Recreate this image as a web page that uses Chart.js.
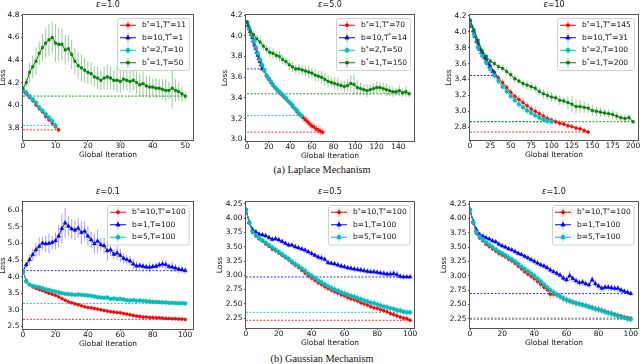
<!DOCTYPE html>
<html>
<head>
<meta charset="utf-8">
<script src="https://cdn.jsdelivr.net/npm/chart.js@4.4.1/dist/chart.umd.min.js"></script>
<style>
  html, body { margin: 0; padding: 0; background: #fff; overflow: hidden; }
  body { position: relative; width: 640px; height: 364px; font-family: "DejaVu Sans", sans-serif; }
  canvas { position: absolute; }
  .title { position: absolute; text-align: center; font-size: 8px; line-height: 10px; color: #111; }
  .caption { position: absolute; left: 0; width: 644px; text-align: center; font-family: "Liberation Serif", serif; font-size: 10.3px; line-height: 12px; color: #111; }
</style>
</head>
<body>
<div class="caption" style="top: 164px;">(a) Laplace Mechanism</div>
<div class="caption" style="top: 353px;">(b) Gaussian Mechanism</div>
<script>
// ---- iteration indices (x values) ----
const IT_0_1 = [0, 1];
const IT_0_10 = [0, 1, 2, 3, 4, 5, 6, 7, 8, 9, 10];
const IT_0_11 = [0, 1, 2, 3, 4, 5, 6, 7, 8, 9, 10, 11];
const IT_0_14 = [0, 1, 2, 3, 4, 5, 6, 7, 8, 9, 10, 11, 12, 13, 14];
const IT_0_50 = [0, 1, 2, 3, 4, 5, 6, 7, 8, 9, 10, 11, 12, 13, 14, 15, 16, 17, 18, 19, 20, 21, 22, 23, 24, 25,
  26, 27, 28, 29, 30, 31, 32, 33, 34, 35, 36, 37, 38, 39, 40, 41, 42, 43, 44, 45, 46, 47, 48, 49, 50];
const IT_0_50_BY2 = [0, 2, 4, 6, 8, 10, 12, 14, 16, 18, 20, 22, 24, 26, 28, 30, 32, 34, 36, 38, 40, 42, 44, 46, 48, 50];
const IT_0_70_BY2 = [0, 2, 4, 6, 8, 10, 12, 14, 16, 18, 20, 22, 24, 26, 28, 30, 32, 34, 36, 38, 40, 42, 44, 46, 48, 50,
  52, 54, 56, 58, 60, 62, 64, 66, 68, 70];
const IT_0_150_BY3 = [0, 3, 6, 9, 12, 15, 18, 21, 24, 27, 30, 33, 36, 39, 42, 45, 48, 51, 54, 57, 60, 63, 66, 69, 72, 75,
  78, 81, 84, 87, 90, 93, 96, 99, 102, 105, 108, 111, 114, 117, 120, 123, 126, 129, 132, 135, 138, 141, 144, 147, 150];
const IT_0_31 = [0, 2, 4, 6, 8, 10, 12, 14, 16, 18, 20, 22, 24, 26, 28, 30, 31];
const IT_0_100_BY5 = [0, 5, 10, 15, 20, 25, 30, 35, 40, 45, 50, 55, 60, 65, 70, 75, 80, 85, 90, 95, 100];
const IT_0_145_BY5 = [0, 5, 10, 15, 20, 25, 30, 35, 40, 45, 50, 55, 60, 65, 70, 75, 80, 85, 90, 95, 100,
  105, 110, 115, 120, 125, 130, 135, 140, 145];
const IT_0_200_BY5 = [0, 5, 10, 15, 20, 25, 30, 35, 40, 45, 50, 55, 60, 65, 70, 75, 80, 85, 90, 95, 100,
  105, 110, 115, 120, 125, 130, 135, 140, 145, 150, 155, 160, 165, 170, 175, 180, 185, 190, 195, 200];
const IT_0_100_BY2 = [0, 2, 4, 6, 8, 10, 12, 14, 16, 18, 20, 22, 24, 26, 28, 30, 32, 34, 36, 38, 40, 42, 44, 46, 48, 50,
  52, 54, 56, 58, 60, 62, 64, 66, 68, 70, 72, 74, 76, 78, 80, 82, 84, 86, 88, 90, 92, 94, 96, 98, 100];

// ---- (a) Laplace, eps = 1.0 ----
const L1_RED = [4.13, 4.10, 4.07, 4.04, 4.00, 3.97, 3.94, 3.90, 3.87, 3.84, 3.81, 3.78];
const L1_RED_ERR = [0.01, 0.02, 0.02, 0.02, 0.02, 0.02, 0.02, 0.03, 0.02, 0.02, 0.03, 0.03];
const L1_BLUE = [4.13, 4.11];
const L1_BLUE_ERR = [0.01, 0.02];
const L1_CYAN = [4.13, 4.11, 4.08, 4.05, 4.02, 3.98, 3.95, 3.92, 3.89, 3.86, 3.82];
const L1_CYAN_ERR = [0.01, 0.02, 0.02, 0.03, 0.03, 0.03, 0.03, 0.04, 0.03, 0.04, 0.04];
const L1_GREEN = [4.15, 4.20, 4.29, 4.34, 4.39, 4.46, 4.51, 4.55, 4.58, 4.60,
  4.55, 4.54, 4.54, 4.49, 4.50, 4.45, 4.39, 4.35, 4.33, 4.31,
  4.29, 4.28, 4.25, 4.24, 4.22, 4.24, 4.25, 4.24, 4.22, 4.22,
  4.21, 4.23, 4.22, 4.21, 4.22, 4.20, 4.18, 4.19, 4.17, 4.16,
  4.16, 4.15, 4.15, 4.14, 4.13, 4.13, 4.15, 4.13, 4.12, 4.10, 4.08];
const L1_GREEN_ERR = [0.02, 0.04, 0.09, 0.10, 0.12, 0.10, 0.12, 0.13, 0.14, 0.14,
  0.17, 0.15, 0.14, 0.13, 0.12, 0.13, 0.12, 0.12, 0.12, 0.11,
  0.10, 0.10, 0.09, 0.10, 0.09, 0.10, 0.11, 0.10, 0.09, 0.11,
  0.10, 0.10, 0.09, 0.10, 0.09, 0.10, 0.10, 0.11, 0.09, 0.10,
  0.08, 0.09, 0.08, 0.09, 0.10, 0.08, 0.18, 0.10, 0.08, 0.07, 0.04];

// ---- (a) Laplace, eps = 5.0 ----
const L5_RED = [4.13, 4.07, 4.01, 3.94, 3.88, 3.82, 3.76, 3.71, 3.66, 3.61, 3.58, 3.55, 3.52, 3.50, 3.47, 3.45, 3.43, 3.41,
  3.39, 3.37, 3.35, 3.32, 3.30, 3.27, 3.25, 3.23, 3.21, 3.19, 3.17, 3.15, 3.13, 3.12, 3.10, 3.09, 3.08, 3.07];
const L5_RED_ERR = [0.01, 0.02, 0.02, 0.02, 0.02, 0.02, 0.02, 0.02, 0.02, 0.02, 0.02, 0.02, 0.02, 0.02, 0.02, 0.02, 0.02, 0.02,
  0.02, 0.02, 0.02, 0.03, 0.02, 0.03, 0.03, 0.03, 0.04, 0.04, 0.04, 0.04, 0.04, 0.04, 0.04, 0.04, 0.04, 0.03];
const L5_BLUE = [4.13, 4.10, 4.07, 4.04, 4.01, 3.98, 3.95, 3.91, 3.88, 3.84, 3.81, 3.78, 3.75, 3.72, 3.68];
const L5_BLUE_ERR = [0.01, 0.01, 0.02, 0.02, 0.02, 0.02, 0.02, 0.02, 0.02, 0.02, 0.02, 0.02, 0.02, 0.02, 0.02];
const L5_CYAN = [4.13, 4.07, 4.01, 3.95, 3.89, 3.83, 3.77, 3.72, 3.67, 3.62, 3.59, 3.56, 3.53, 3.50, 3.48, 3.46, 3.44,
  3.42, 3.40, 3.37, 3.35, 3.33, 3.30, 3.28, 3.25, 3.23];
const L5_CYAN_ERR = [0.01, 0.02, 0.02, 0.02, 0.02, 0.02, 0.02, 0.02, 0.02, 0.02, 0.02, 0.02, 0.02, 0.02, 0.02, 0.02, 0.02,
  0.02, 0.02, 0.02, 0.02, 0.02, 0.02, 0.03, 0.03, 0.03];
const L5_GREEN = [4.13, 4.04, 4.01, 3.97, 3.94, 3.90, 3.87, 3.84, 3.83, 3.81,
  3.80, 3.77, 3.75, 3.72, 3.70, 3.68, 3.68, 3.67, 3.66, 3.65,
  3.64, 3.62, 3.61, 3.60, 3.58, 3.56, 3.55, 3.54, 3.53, 3.52,
  3.51, 3.52, 3.54, 3.53, 3.50, 3.49, 3.48, 3.47, 3.48, 3.49,
  3.50, 3.50, 3.49, 3.48, 3.47, 3.46, 3.46, 3.47, 3.45, 3.46, 3.44];
const L5_GREEN_ERR = [0.02, 0.03, 0.03, 0.04, 0.04, 0.04, 0.04, 0.05, 0.05, 0.04,
  0.05, 0.05, 0.04, 0.05, 0.05, 0.04, 0.05, 0.05, 0.05, 0.06,
  0.05, 0.06, 0.05, 0.06, 0.06, 0.06, 0.05, 0.06, 0.06, 0.05,
  0.06, 0.06, 0.08, 0.10, 0.07, 0.06, 0.05, 0.06, 0.05, 0.05,
  0.06, 0.05, 0.05, 0.06, 0.05, 0.05, 0.04, 0.05, 0.04, 0.05, 0.03];

// ---- (a) Laplace, eps = 10 ----
const L10_RED = [4.14, 3.98, 3.85, 3.74, 3.65, 3.57, 3.49, 3.42, 3.36, 3.30, 3.24, 3.19, 3.15, 3.11, 3.07,
  3.03, 3.00, 2.97, 2.94, 2.91, 2.89, 2.87, 2.85, 2.84, 2.82, 2.81, 2.79, 2.78, 2.76, 2.74];
const L10_RED_ERR = [0.01, 0.03, 0.03, 0.03, 0.03, 0.04, 0.04, 0.04, 0.05, 0.04, 0.05, 0.05, 0.05, 0.06, 0.05,
  0.05, 0.06, 0.05, 0.05, 0.05, 0.04, 0.04, 0.04, 0.03, 0.04, 0.03, 0.03, 0.03, 0.03, 0.03];
const L10_BLUE = [4.14, 4.07, 4.01, 3.94, 3.88, 3.82, 3.78, 3.74, 3.70, 3.67, 3.63, 3.60, 3.56, 3.53, 3.50, 3.47, 3.45];
const L10_BLUE_ERR = [0.01, 0.02, 0.02, 0.02, 0.02, 0.02, 0.02, 0.02, 0.02, 0.02, 0.02, 0.02, 0.02, 0.02, 0.02, 0.02, 0.02];
const L10_CYAN = [4.14, 3.96, 3.80, 3.70, 3.61, 3.53, 3.45, 3.38, 3.31, 3.25, 3.19, 3.14, 3.09, 3.05, 3.01,
  2.98, 2.95, 2.92, 2.90, 2.88, 2.87];
const L10_CYAN_ERR = [0.01, 0.04, 0.04, 0.04, 0.05, 0.05, 0.05, 0.05, 0.05, 0.05, 0.05, 0.05, 0.05, 0.05, 0.05,
  0.04, 0.04, 0.04, 0.04, 0.04, 0.03];
const L10_GREEN = [4.14, 4.02, 3.89, 3.76, 3.69, 3.63, 3.60, 3.56, 3.54, 3.50, 3.46, 3.41, 3.38, 3.35, 3.33,
  3.31, 3.29, 3.25, 3.22, 3.20, 3.18, 3.17, 3.14, 3.13, 3.11, 3.09, 3.06, 3.06, 3.05, 3.04,
  3.01, 3.00, 2.99, 2.98, 2.97, 2.96, 2.94, 2.92, 2.91, 2.92, 2.87];
const L10_GREEN_ERR = [0.02, 0.03, 0.03, 0.04, 0.04, 0.04, 0.04, 0.04, 0.04, 0.05, 0.05, 0.05, 0.04, 0.05, 0.05,
  0.05, 0.05, 0.05, 0.06, 0.05, 0.06, 0.05, 0.06, 0.05, 0.08, 0.10, 0.09, 0.08, 0.07, 0.06,
  0.07, 0.06, 0.06, 0.05, 0.05, 0.05, 0.05, 0.04, 0.05, 0.05, 0.03];

// ---- (b) Gaussian, eps = 0.1 ----
const G01_RED = [4.16, 3.88, 3.76, 3.69, 3.65, 3.61, 3.58, 3.54, 3.50, 3.47,
  3.44, 3.39, 3.34, 3.29, 3.24, 3.21, 3.18, 3.15, 3.12, 3.09,
  3.07, 3.06, 3.04, 3.02, 3.00, 2.98, 2.96, 2.94, 2.93, 2.92,
  2.91, 2.89, 2.87, 2.85, 2.83, 2.81, 2.80, 2.78, 2.78, 2.77,
  2.77, 2.76, 2.76, 2.75, 2.74, 2.74, 2.73, 2.73, 2.72, 2.72, 2.71];
const G01_RED_ERR = [0.02, 0.04, 0.04, 0.04, 0.04, 0.04, 0.04, 0.04, 0.04, 0.04,
  0.04, 0.05, 0.04, 0.04, 0.05, 0.04, 0.04, 0.05, 0.04, 0.04,
  0.04, 0.05, 0.04, 0.04, 0.05, 0.04, 0.05, 0.04, 0.06, 0.04,
  0.05, 0.04, 0.04, 0.05, 0.04, 0.04, 0.04, 0.05, 0.04, 0.04,
  0.05, 0.04, 0.04, 0.04, 0.05, 0.04, 0.04, 0.05, 0.04, 0.05, 0.05];
const G01_BLUE = [4.16, 4.36, 4.51, 4.66, 4.81, 4.91, 5.01, 4.99, 5.00, 5.03,
  5.08, 5.22, 5.45, 5.62, 5.52, 5.44, 5.40, 5.46, 5.33, 5.37,
  5.22, 5.11, 4.99, 5.07, 4.96, 4.93, 4.78, 4.81, 4.67, 4.71,
  4.64, 4.55, 4.51, 4.47, 4.38, 4.32, 4.33, 4.31, 4.29, 4.28,
  4.30, 4.31, 4.35, 4.38, 4.36, 4.30, 4.29, 4.26, 4.22, 4.21, 4.18];
const G01_BLUE_ERR = [0.03, 0.10, 0.15, 0.18, 0.20, 0.28, 0.20, 0.25, 0.30, 0.20,
  0.25, 0.35, 0.45, 0.45, 0.30, 0.30, 0.30, 0.30, 0.35, 0.30,
  0.30, 0.25, 0.30, 0.35, 0.20, 0.25, 0.30, 0.20, 0.15, 0.20,
  0.20, 0.15, 0.15, 0.15, 0.15, 0.15, 0.10, 0.12, 0.10, 0.15,
  0.10, 0.12, 0.10, 0.12, 0.15, 0.10, 0.15, 0.12, 0.12, 0.10, 0.10];
const G01_CYAN = [4.16, 3.85, 3.76, 3.72, 3.70, 3.68, 3.65, 3.62, 3.60, 3.57,
  3.55, 3.52, 3.50, 3.48, 3.47, 3.46, 3.45, 3.46, 3.45, 3.44,
  3.43, 3.42, 3.40, 3.38, 3.37, 3.36, 3.37, 3.33, 3.34, 3.32,
  3.33, 3.31, 3.29, 3.28, 3.29, 3.27, 3.28, 3.27, 3.26, 3.25,
  3.24, 3.24, 3.23, 3.22, 3.22, 3.21, 3.21, 3.20, 3.20, 3.20, 3.19];
const G01_CYAN_ERR = [0.02, 0.05, 0.05, 0.05, 0.06, 0.05, 0.05, 0.05, 0.06, 0.05,
  0.05, 0.06, 0.05, 0.05, 0.06, 0.05, 0.05, 0.06, 0.05, 0.05,
  0.06, 0.05, 0.05, 0.06, 0.05, 0.06, 0.07, 0.05, 0.06, 0.05,
  0.06, 0.05, 0.06, 0.06, 0.05, 0.06, 0.05, 0.06, 0.05, 0.06,
  0.06, 0.05, 0.06, 0.06, 0.06, 0.05, 0.06, 0.06, 0.07, 0.06, 0.06];

// ---- (b) Gaussian, eps = 0.5 ----
const G05_RED = [4.15, 3.92, 3.76, 3.69, 3.64, 3.60, 3.55, 3.51, 3.46, 3.43,
  3.39, 3.35, 3.31, 3.27, 3.22, 3.18, 3.14, 3.09, 3.04, 2.99,
  2.95, 2.91, 2.87, 2.84, 2.80, 2.77, 2.74, 2.71, 2.69, 2.66,
  2.64, 2.61, 2.59, 2.57, 2.55, 2.52, 2.50, 2.48, 2.45, 2.43,
  2.42, 2.40, 2.38, 2.36, 2.33, 2.31, 2.29, 2.27, 2.25, 2.24, 2.21];
const G05_RED_ERR = [0.02, 0.04, 0.04, 0.03, 0.03, 0.03, 0.03, 0.04, 0.04, 0.04,
  0.04, 0.04, 0.04, 0.05, 0.05, 0.05, 0.05, 0.05, 0.05, 0.05,
  0.06, 0.06, 0.06, 0.06, 0.06, 0.06, 0.06, 0.06, 0.06, 0.06,
  0.06, 0.06, 0.06, 0.06, 0.05, 0.06, 0.06, 0.06, 0.05, 0.05,
  0.05, 0.05, 0.05, 0.05, 0.05, 0.05, 0.05, 0.05, 0.04, 0.04, 0.04];
const G05_BLUE = [4.15, 3.93, 3.80, 3.76, 3.72, 3.71, 3.69, 3.66, 3.63, 3.64,
  3.62, 3.59, 3.56, 3.53, 3.53, 3.50, 3.48, 3.46, 3.44, 3.41,
  3.38, 3.35, 3.32, 3.30, 3.28, 3.22, 3.21, 3.20, 3.18, 3.16,
  3.15, 3.13, 3.12, 3.11, 3.10, 3.09, 3.08, 3.07, 3.06, 3.06,
  3.05, 3.04, 3.03, 3.02, 3.02, 3.03, 3.01, 2.98, 2.97, 2.97, 2.97];
const G05_BLUE_ERR = [0.02, 0.05, 0.05, 0.05, 0.04, 0.04, 0.04, 0.04, 0.05, 0.04,
  0.05, 0.04, 0.05, 0.05, 0.04, 0.05, 0.04, 0.04, 0.05, 0.04,
  0.05, 0.04, 0.06, 0.07, 0.05, 0.05, 0.04, 0.05, 0.05, 0.05,
  0.05, 0.05, 0.05, 0.05, 0.04, 0.05, 0.05, 0.05, 0.05, 0.05,
  0.05, 0.05, 0.06, 0.05, 0.07, 0.06, 0.07, 0.05, 0.05, 0.04, 0.04];
const G05_CYAN = [4.15, 3.92, 3.76, 3.70, 3.65, 3.61, 3.57, 3.53, 3.49, 3.45,
  3.41, 3.37, 3.33, 3.29, 3.24, 3.20, 3.16, 3.12, 3.08, 3.03,
  2.99, 2.95, 2.91, 2.88, 2.84, 2.81, 2.78, 2.75, 2.73, 2.70,
  2.68, 2.66, 2.64, 2.62, 2.60, 2.58, 2.56, 2.54, 2.52, 2.51,
  2.49, 2.47, 2.45, 2.44, 2.42, 2.41, 2.39, 2.38, 2.36, 2.35, 2.35];
const G05_CYAN_ERR = [0.02, 0.05, 0.05, 0.04, 0.04, 0.04, 0.04, 0.05, 0.05, 0.05,
  0.05, 0.05, 0.05, 0.06, 0.06, 0.06, 0.06, 0.06, 0.06, 0.06,
  0.07, 0.07, 0.07, 0.06, 0.07, 0.07, 0.07, 0.07, 0.06, 0.07,
  0.07, 0.07, 0.06, 0.07, 0.06, 0.07, 0.07, 0.06, 0.06, 0.06,
  0.06, 0.06, 0.06, 0.06, 0.06, 0.06, 0.06, 0.06, 0.05, 0.06, 0.05];

// ---- (b) Gaussian, eps = 1.0 ----
const G1_RED = [4.15, 3.92, 3.74, 3.66, 3.61, 3.55, 3.51, 3.47, 3.43, 3.39,
  3.36, 3.33, 3.29, 3.26, 3.22, 3.17, 3.12, 3.07, 3.03, 2.99,
  2.95, 2.90, 2.85, 2.80, 2.76, 2.68, 2.68, 2.67, 2.64, 2.60,
  2.58, 2.56, 2.54, 2.52, 2.51, 2.50, 2.48, 2.46, 2.45, 2.43,
  2.42, 2.40, 2.38, 2.36, 2.35, 2.33, 2.31, 2.30, 2.28, 2.27, 2.26];
const G1_RED_ERR = [0.02, 0.04, 0.04, 0.03, 0.03, 0.03, 0.04, 0.04, 0.04, 0.04,
  0.04, 0.04, 0.05, 0.05, 0.05, 0.05, 0.05, 0.05, 0.05, 0.06,
  0.06, 0.06, 0.06, 0.06, 0.06, 0.08, 0.06, 0.06, 0.06, 0.06,
  0.06, 0.06, 0.05, 0.06, 0.06, 0.05, 0.06, 0.05, 0.05, 0.06,
  0.06, 0.05, 0.05, 0.05, 0.05, 0.05, 0.05, 0.04, 0.05, 0.04, 0.04];
const G1_BLUE = [4.15, 3.95, 3.80, 3.72, 3.69, 3.66, 3.64, 3.61, 3.59, 3.55,
  3.52, 3.50, 3.47, 3.45, 3.42, 3.39, 3.37, 3.34, 3.31, 3.28,
  3.25, 3.22, 3.19, 3.17, 3.14, 3.10, 3.07, 3.04, 3.01, 2.96,
  2.93, 3.00, 2.95, 2.91, 2.88, 2.89, 2.86, 2.84, 2.93, 2.86,
  2.82, 2.78, 2.80, 2.80, 2.79, 2.78, 2.78, 2.75, 2.73, 2.71, 2.69];
const G1_BLUE_ERR = [0.02, 0.04, 0.05, 0.05, 0.04, 0.04, 0.04, 0.04, 0.04, 0.04,
  0.04, 0.04, 0.04, 0.04, 0.04, 0.04, 0.04, 0.04, 0.05, 0.04,
  0.05, 0.05, 0.05, 0.05, 0.05, 0.05, 0.05, 0.05, 0.06, 0.06,
  0.06, 0.09, 0.06, 0.06, 0.06, 0.06, 0.06, 0.06, 0.06, 0.06,
  0.06, 0.06, 0.06, 0.06, 0.06, 0.06, 0.06, 0.05, 0.05, 0.05, 0.04];
const G1_CYAN = [4.15, 3.93, 3.76, 3.68, 3.63, 3.58, 3.54, 3.50, 3.46, 3.42,
  3.39, 3.36, 3.32, 3.29, 3.25, 3.21, 3.16, 3.12, 3.08, 3.04,
  3.00, 2.95, 2.90, 2.85, 2.80, 2.75, 2.71, 2.67, 2.64, 2.61,
  2.58, 2.56, 2.54, 2.52, 2.51, 2.49, 2.48, 2.46, 2.44, 2.42,
  2.41, 2.39, 2.37, 2.35, 2.34, 2.32, 2.30, 2.28, 2.27, 2.25, 2.24];
const G1_CYAN_ERR = [0.02, 0.05, 0.05, 0.04, 0.04, 0.04, 0.05, 0.05, 0.05, 0.05,
  0.05, 0.05, 0.06, 0.06, 0.06, 0.06, 0.06, 0.06, 0.06, 0.07,
  0.07, 0.07, 0.07, 0.07, 0.06, 0.07, 0.07, 0.07, 0.06, 0.07,
  0.06, 0.06, 0.06, 0.06, 0.06, 0.06, 0.06, 0.06, 0.06, 0.06,
  0.06, 0.06, 0.06, 0.06, 0.06, 0.05, 0.06, 0.05, 0.05, 0.05, 0.05];

// ---- titles, legend labels, axes ----
const TITLES = ['1.0', '5.0', '10', '0.1', '0.5', '1.0'];
const LAP_LABELS = [
  ['b*=1,T*=11', 'b=10,T*=1', 'b*=2,T=10', 'b*=1,T=50'],
  ['b*=1,T*=70', 'b=10,T*=14', 'b*=2,T=50', 'b*=1,T=150'],
  ['b*=1,T*=145', 'b=10,T*=31', 'b*=2,T=100', 'b*=1,T=200']
];
const GAU_LABELS = ['b*=10,T*=100', 'b=1,T=100', 'b=5,T=100'];
const X_TICKS = [
  [0, 10, 20, 30, 40, 50],
  [0, 20, 40, 60, 80, 100, 120, 140],
  [0, 25, 50, 75, 100, 125, 150, 175, 200],
  [0, 20, 40, 60, 80, 100],
  [0, 20, 40, 60, 80, 100],
  [0, 20, 40, 60, 80, 100]
];
const Y_TICKS = [
  [3.8, 4.0, 4.2, 4.4, 4.6, 4.8],
  [3.0, 3.2, 3.4, 3.6, 3.8, 4.0, 4.2],
  [2.8, 3.0, 3.2, 3.4, 3.6, 3.8, 4.0, 4.2],
  [2.5, 3.0, 3.5, 4.0, 4.5, 5.0, 5.5, 6.0],
  [2.25, 2.5, 2.75, 3.0, 3.25, 3.5, 3.75, 4.0, 4.25],
  [2.25, 2.5, 2.75, 3.0, 3.25, 3.5, 3.75, 4.0, 4.25]
];
const Y_DECIMALS = [1, 1, 1, 1, 2, 2];
const X_RANGES = [[0, 52.4], [-1, 154.5], [0, 206], [0, 104.8], [0, 102.4], [0, 104.5]];
const Y_RANGES = [[3.69, 4.8], [2.985, 4.2], [2.64, 4.21], [2.42, 6.25], [2.075, 4.285], [2.09, 4.285]];

// series per panel: [colour, label, x, y, err]
const PANEL_SERIES = [
  [
    ['red', LAP_LABELS[0][0], IT_0_11, L1_RED, L1_RED_ERR],
    ['blue', LAP_LABELS[0][1], IT_0_1, L1_BLUE, L1_BLUE_ERR],
    ['cyan', LAP_LABELS[0][2], IT_0_10, L1_CYAN, L1_CYAN_ERR],
    ['green', LAP_LABELS[0][3], IT_0_50, L1_GREEN, L1_GREEN_ERR]
  ],
  [
    ['red', LAP_LABELS[1][0], IT_0_70_BY2, L5_RED, L5_RED_ERR],
    ['blue', LAP_LABELS[1][1], IT_0_14, L5_BLUE, L5_BLUE_ERR],
    ['cyan', LAP_LABELS[1][2], IT_0_50_BY2, L5_CYAN, L5_CYAN_ERR],
    ['green', LAP_LABELS[1][3], IT_0_150_BY3, L5_GREEN, L5_GREEN_ERR]
  ],
  [
    ['red', LAP_LABELS[2][0], IT_0_145_BY5, L10_RED, L10_RED_ERR],
    ['blue', LAP_LABELS[2][1], IT_0_31, L10_BLUE, L10_BLUE_ERR],
    ['cyan', LAP_LABELS[2][2], IT_0_100_BY5, L10_CYAN, L10_CYAN_ERR],
    ['green', LAP_LABELS[2][3], IT_0_200_BY5, L10_GREEN, L10_GREEN_ERR]
  ],
  [
    ['red', GAU_LABELS[0], IT_0_100_BY2, G01_RED, G01_RED_ERR],
    ['blue', GAU_LABELS[1], IT_0_100_BY2, G01_BLUE, G01_BLUE_ERR],
    ['cyan', GAU_LABELS[2], IT_0_100_BY2, G01_CYAN, G01_CYAN_ERR]
  ],
  [
    ['red', GAU_LABELS[0], IT_0_100_BY2, G05_RED, G05_RED_ERR],
    ['blue', GAU_LABELS[1], IT_0_100_BY2, G05_BLUE, G05_BLUE_ERR],
    ['cyan', GAU_LABELS[2], IT_0_100_BY2, G05_CYAN, G05_CYAN_ERR]
  ],
  [
    ['red', GAU_LABELS[0], IT_0_100_BY2, G1_RED, G1_RED_ERR],
    ['blue', GAU_LABELS[1], IT_0_100_BY2, G1_BLUE, G1_BLUE_ERR],
    ['cyan', GAU_LABELS[2], IT_0_100_BY2, G1_CYAN, G1_CYAN_ERR]
  ]
];

// ---- layout and styling ----
const LAYOUT = [
  { l: 23, t: 15, r: 193, b: 140, yw: 24 },
  { l: 246, t: 15, r: 414, b: 141, yw: 25 },
  { l: 470, t: 15, r: 638, b: 140, yw: 25 },
  { l: 23, t: 202, r: 193, b: 329, yw: 24 },
  { l: 246, t: 202, r: 414, b: 328, yw: 30 },
  { l: 470, t: 202, r: 638, b: 328, yw: 30 }
];
const X_AXIS_H = 20, PAD_T = 6, PAD_R = 6;

const COLORS = { red: '#ff0000', blue: '#0000ff', cyan: '#00bfbf', green: '#008000' };
const ERR_COLORS = { red: 'rgba(255,0,0,0.38)', blue: 'rgba(0,0,255,0.38)', cyan: 'rgba(0,191,191,0.45)', green: 'rgba(0,128,0,0.4)' };
const DASH_COLORS = { red: 'rgba(255,0,0,0.8)', blue: 'rgba(0,0,255,0.8)', cyan: 'rgba(0,191,191,0.85)', green: 'rgba(0,128,0,0.85)' };
const MARKERS = { red: ['circle', 1.5], blue: ['triangle', 2.3], cyan: ['circle', 1.9], green: ['rect', 1.7] };
const DRAW_ORDER = { red: 4, blue: 3, cyan: 2, green: 1 };

Chart.defaults.font.family = '"DejaVu Sans", sans-serif';
Chart.defaults.font.size = 7.5;
Chart.defaults.color = '#111';

// spines on all four sides
const frame = {
  id: 'frame',
  afterDraw(chart) {
    const a = chart.chartArea, ctx = chart.ctx;
    ctx.save();
    ctx.strokeStyle = '#555';
    ctx.lineWidth = 1;
    ctx.strokeRect(a.left - 0.5, a.top - 0.5, a.right - a.left + 1, a.bottom - a.top + 1);
    ctx.restore();
  }
};

// vertical error bars, drawn just under each dataset
const errorBars = {
  id: 'errorBars',
  beforeDatasetDraw(chart, args) {
    const ds = chart.data.datasets[args.index];
    if (!ds.errors) return;
    const ctx = chart.ctx, a = chart.chartArea;
    const sx = chart.scales.x, sy = chart.scales.y;
    ctx.save();
    ctx.beginPath();
    ctx.rect(a.left, a.top, a.right - a.left, a.bottom - a.top);
    ctx.clip();
    ctx.strokeStyle = ds.errColor;
    ctx.lineWidth = 1;
    ctx.beginPath();
    ds.data.forEach((p, i) => {
      const px = sx.getPixelForValue(p.x);
      ctx.moveTo(px, sy.getPixelForValue(p.y - ds.errors[i]));
      ctx.lineTo(px, sy.getPixelForValue(p.y + ds.errors[i]));
    });
    ctx.stroke();
    ctx.restore();
  }
};

// labels with raised asterisks, like b$^*$
function drawLabel(ctx, text, x, y, measureOnly) {
  let cx = x;
  for (const ch of text) {
    if (ch === '*') {
      ctx.font = '5.5px "DejaVu Sans"';
      if (!measureOnly) ctx.fillText(ch, cx, y - 2);
    } else {
      ctx.font = '7.5px "DejaVu Sans"';
      if (!measureOnly) ctx.fillText(ch, cx, y);
    }
    cx += ctx.measureText(ch).width;
  }
  return cx - x;
}

const legendBox = {
  id: 'legendBox',
  afterDatasetsDraw(chart) {
    const items = chart.data.datasets.filter(d => d.inLegend);
    const ctx = chart.ctx, a = chart.chartArea;
    const rowH = 12.5;
    ctx.save();
    const textW = Math.max(...items.map(d => drawLabel(ctx, d.label, 0, 0, true)));
    const w = 25 + textW + 3, h = items.length * rowH + 2;
    const x0 = Math.round(a.right - 4 - w), y0 = a.top + 3;
    ctx.fillStyle = 'rgba(255,255,255,0.85)';
    ctx.strokeStyle = '#d0d0d0';
    ctx.lineWidth = 1;
    ctx.beginPath();
    ctx.roundRect(x0 + 0.5, y0 + 0.5, w, h, 2);
    ctx.fill();
    ctx.stroke();
    ctx.textBaseline = 'middle';
    ctx.textAlign = 'left';
    items.forEach((d, i) => {
      const cy = y0 + 1 + rowH * (i + 0.5);
      ctx.strokeStyle = d.errColor;
      ctx.beginPath();
      ctx.moveTo(x0 + 11, cy - 5);
      ctx.lineTo(x0 + 11, cy + 5);
      ctx.stroke();
      ctx.strokeStyle = d.borderColor;
      ctx.beginPath();
      ctx.moveTo(x0 + 3, cy);
      ctx.lineTo(x0 + 19, cy);
      ctx.stroke();
      ctx.fillStyle = d.borderColor;
      Chart.helpers.drawPoint(ctx, { pointStyle: d.pointStyle, radius: d.pointRadius, rotation: 0, borderWidth: 0.5 }, x0 + 11, cy);
      ctx.fillStyle = '#111';
      drawLabel(ctx, d.label, x0 + 25, cy, false);
    });
    ctx.restore();
  }
};

function buildDatasets(series) {
  const sets = [];
  series.forEach(([color, label, xs, ys, errs]) => {
    const pts = xs.map((x, i) => ({ x: x, y: ys[i] }));
    const last = pts[pts.length - 1];
    sets.push({
      label: label,
      inLegend: true,
      data: pts,
      errors: errs,
      errColor: ERR_COLORS[color],
      borderColor: COLORS[color],
      backgroundColor: COLORS[color],
      borderWidth: 1,
      pointStyle: MARKERS[color][0],
      pointRadius: MARKERS[color][1],
      pointBorderWidth: 0.5,
      order: DRAW_ORDER[color]
    });
    // dashed reference at the final loss
    sets.push({
      label: '',
      data: [{ x: 0, y: last.y }, { x: last.x, y: last.y }],
      borderColor: DASH_COLORS[color],
      borderWidth: 1,
      borderDash: [2, 1.5],
      pointRadius: 0,
      order: 10 + DRAW_ORDER[color]
    });
  });
  return sets;
}

LAYOUT.forEach((box, k) => {
  const w = box.r - box.l + box.yw + PAD_R;
  const h = box.b - box.t + PAD_T + X_AXIS_H;
  const canvas = document.createElement('canvas');
  canvas.width = w;
  canvas.height = h;
  canvas.style.left = (box.l - box.yw) + 'px';
  canvas.style.top = (box.t - PAD_T) + 'px';
  canvas.style.width = w + 'px';
  canvas.style.height = h + 'px';
  document.body.appendChild(canvas);

  const title = document.createElement('div');
  title.className = 'title';
  title.style.left = box.l + 'px';
  title.style.width = (box.r - box.l) + 'px';
  title.style.top = (box.t - 14.7) + 'px';
  title.innerHTML = '<i>\u03b5</i>=' + TITLES[k];
  document.body.appendChild(title);

  const dec = Y_DECIMALS[k];
  new Chart(canvas.getContext('2d'), {
    type: 'line',
    data: { datasets: buildDatasets(PANEL_SERIES[k]) },
    options: {
      responsive: false,
      animation: false,
      events: [],
      layout: { padding: { top: PAD_T, right: PAD_R, left: 0, bottom: 0 } },
      plugins: { legend: { display: false }, tooltip: { enabled: false } },
      elements: { line: { tension: 0 } },
      scales: {
        x: {
          type: 'linear',
          min: X_RANGES[k][0],
          max: X_RANGES[k][1],
          afterBuildTicks: ax => { ax.ticks = X_TICKS[k].map(v => ({ value: v })); },
          afterFit: ax => { ax.height = X_AXIS_H; },
          grid: { drawOnChartArea: false, tickLength: 2, color: '#555' },
          border: { display: false },
          ticks: { padding: 0, maxRotation: 0, autoSkip: false, color: '#111', callback: v => String(v) },
          title: { display: true, text: 'Global Iteration', padding: 0, color: '#111', font: { size: 7.5 } }
        },
        y: {
          min: Y_RANGES[k][0],
          max: Y_RANGES[k][1],
          afterBuildTicks: ax => { ax.ticks = Y_TICKS[k].map(v => ({ value: v })); },
          afterFit: ax => { ax.width = box.yw; },
          grid: { drawOnChartArea: false, tickLength: 2, color: '#555' },
          border: { display: false },
          ticks: { padding: 1.5, autoSkip: false, color: '#111', callback: v => Number(v).toFixed(dec) },
          title: { display: true, text: 'Loss', padding: 0, color: '#111', font: { size: 7.5 } }
        }
      }
    },
    plugins: [frame, errorBars, legendBox]
  });
});
</script>
</body>
</html>
